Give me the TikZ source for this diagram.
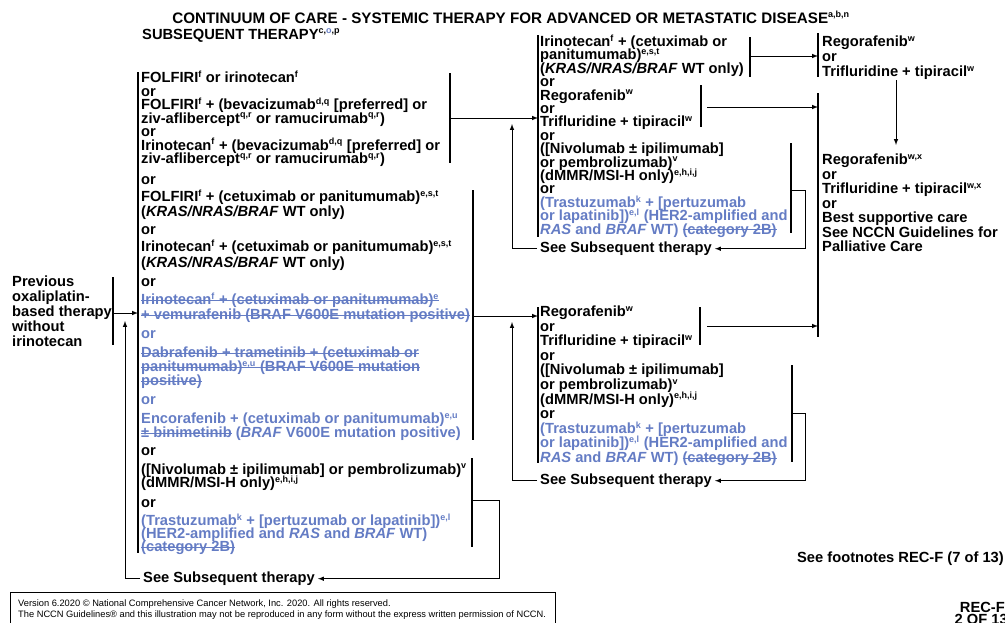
\documentclass[tikz,border=0pt]{standalone}
\usepackage{fontspec}
\setmainfont{Liberation Sans}
\definecolor{nccnblue}{RGB}{100,124,196}
\makeatletter
\newcommand\sps[1]{{\m@th\ensuremath{^{\mbox{\fontsize{9}{9}\selectfont#1}}}}}
\makeatother
\newcommand\bl[1]{\textcolor{nccnblue}{#1}}
\newsavebox\strkbox
\newcommand\strk[1]{\sbox\strkbox{#1}\rlap{\rule[3.7pt]{\wd\strkbox}{1pt}}\usebox\strkbox}
\begin{document}
\lineskiplimit=-20pt
\begin{tikzpicture}[x=1pt,y=-1pt,
  txt/.style={anchor=base west,inner sep=0pt,align=left,font=\bfseries\fontsize{14.7}{#1}\selectfont},
  txt/.default=13.5,
  foot/.style={anchor=base west,inner sep=0pt,font=\fontsize{9.3}{10}\selectfont},
  bar/.style={line width=1.2pt},
  arr/.style={line width=1pt,-latex}]
\useasboundingbox (0,0) rectangle (1005,622);
% headings (multi-line nodes sit on their last baseline)
\node[txt,anchor=base,font=\bfseries\fontsize{15.2}{16}\selectfont] (title) at (511,23) {CONTINUUM OF CARE - SYSTEMIC THERAPY FOR ADVANCED OR METASTATIC DISEASE\sps{a,b,n}};
\node[txt] (subtitle) at (142,39) {SUBSEQUENT THERAPY\sps{c,\bl{o},p}};
\node[txt=15] (prev) at (12,346.5) {Previous\\oxaliplatin-\\based therapy\\without\\irinotecan};
% left column
\node[txt=13.5] (l1) at (141,163.7) {FOLFIRI\sps{f} or irinotecan\sps{f}\\or\\FOLFIRI\sps{f} + (bevacizumab\sps{d,q} [preferred] or\\ziv-aflibercept\sps{q,r} or ramucirumab\sps{q,r})\\or\\Irinotecan\sps{f} + (bevacizumab\sps{d,q} [preferred] or\\ziv-aflibercept\sps{q,r} or ramucirumab\sps{q,r})};
\node[txt] (o1) at (141,184.5) {or};
\node[txt=15] (l2) at (141,216.5) {FOLFIRI\sps{f} + (cetuximab or panitumumab)\sps{e,s,t}\\(\textit{KRAS/NRAS/BRAF} WT only)};
\node[txt] (o2) at (141,234.5) {or};
\node[txt=16] (l3) at (141,267.5) {Irinotecan\sps{f} + (cetuximab or panitumumab)\sps{e,s,t}\\(\textit{KRAS/NRAS/BRAF} WT only)};
\node[txt] (o3) at (141,286.5) {or};
\node[txt=15] (l4) at (141,319.5) {\bl{\strk{Irinotecan\sps{f} + (cetuximab or panitumumab)\sps{e}}}\\\bl{\strk{+ vemurafenib (BRAF V600E mutation positive)}}};
\node[txt] (o4) at (141,338.5) {\bl{or}};
\node[txt=14] (l5) at (141,385.5) {\bl{\strk{Dabrafenib + trametinib + (cetuximab or}}\\\bl{\strk{panitumumab)\sps{e,u} (BRAF V600E mutation}}\\\bl{\strk{positive)}}};
\node[txt] (o5) at (141,404.5) {\bl{or}};
\node[txt=14] (l6) at (141,437.5) {\bl{Encorafenib + (cetuximab or panitumumab)\sps{e,u}}\\\bl{\strk{± binimetinib} (\textit{BRAF} V600E mutation positive)}};
\node[txt] (o6) at (141,455.5) {or};
\node[txt=13.5] (l7) at (141,487.5) {([Nivolumab ± ipilimumab] or pembrolizumab)\sps{v}\\(dMMR/MSI-H only)\sps{e,h,i,j}};
\node[txt] (o7) at (141,507.5) {or};
\node[txt=13] (l8) at (141,551.5) {\bl{(Trastuzumab\sps{k} + [pertuzumab or lapatinib])\sps{e,l}}\\\bl{(HER2-amplified and \textit{RAS} and \textit{BRAF} WT)}\\\bl{\strk{(category 2B)}}};
\node[txt,inner xsep=3pt] (sstL) at (140,582.5) {See Subsequent therapy};
% middle column
\node[txt=13.4] (mt) at (540,234.1) {Irinotecan\sps{f} + (cetuximab or\\panitumumab)\sps{e,s,t}\\(\textit{KRAS/NRAS/BRAF} WT only)\\or\\Regorafenib\sps{w}\\or\\Trifluridine + tipiracil\sps{w}\\or\\([Nivolumab ± ipilimumab]\\or pembrolizumab)\sps{v}\\(dMMR/MSI-H only)\sps{e,h,i,j}\\or\\\bl{(Trastuzumab\sps{k} + [pertuzumab}\\\bl{or lapatinib])\sps{e,l} (HER2-amplified and}\\\bl{\textit{RAS} and \textit{BRAF} WT) \strk{(category 2B)}}};
\node[txt,inner xsep=3pt] (sstT) at (537,252.5) {See Subsequent therapy};
\node[txt=14.6] (mb) at (540,462.5) {Regorafenib\sps{w}\\or\\Trifluridine + tipiracil\sps{w}\\or\\([Nivolumab ± ipilimumab]\\or pembrolizumab)\sps{v}\\(dMMR/MSI-H only)\sps{e,h,i,j}\\or\\\bl{(Trastuzumab\sps{k} + [pertuzumab}\\\bl{or lapatinib])\sps{e,l} (HER2-amplified and}\\\bl{\textit{RAS} and \textit{BRAF} WT) \strk{(category 2B)}}};
\node[txt,inner xsep=3pt] (sstB) at (537,484.5) {See Subsequent therapy};
% right column
\node[txt=15] (rt) at (822,76.5) {Regorafenib\sps{w}\\or\\Trifluridine + tipiracil\sps{w}};
\node[txt=14.5] (ft) at (822,251.5) {Regorafenib\sps{w,x}\\or\\Trifluridine + tipiracil\sps{w,x}\\or\\Best supportive care\\See NCCN Guidelines for\\Palliative Care};
\node[txt,anchor=base east] (notes) at (1004,562) {See footnotes REC-F (7 of 13)};
\node[txt,anchor=base east] (page) at (1005,612) {REC-F};
\node[txt,anchor=base east] (pageof) at (1008,624.5) {2 OF 13};
% footer
\draw[line width=0.8pt] (10,592) rectangle (555,640);
\node[foot] (ver) at (18,606) {Version 6.2020 © National Comprehensive Cancer Network, Inc. 2020. All rights reserved.};
\node[foot] (cpy) at (18,617) {The NCCN Guidelines® and this illustration may not be reproduced in any form without the express written permission of NCCN.};
% bar ends
\coordinate (pvT) at (113,277); \coordinate (pvB) at (113,345); \coordinate (pvM) at (113,313);
\coordinate (lcT) at (138,72); \coordinate (lcB) at (138,553);
\coordinate (g1T) at (450,73); \coordinate (g1B) at (450,163); \coordinate (g1M) at (450,118);
\coordinate (g2T) at (473,190); \coordinate (g2B) at (473,440); \coordinate (g2M) at (473,316);
\coordinate (g3T) at (472,458); \coordinate (g3B) at (472,547); \coordinate (g3M) at (472,500);
\coordinate (mtT) at (538,35); \coordinate (mtB) at (538,237);
\coordinate (mbT) at (538,307); \coordinate (mbB) at (538,463);
\coordinate (aT) at (750,37); \coordinate (aB) at (750,77); \coordinate (aM) at (750,56);
\coordinate (bT) at (701,85); \coordinate (bB) at (701,127); \coordinate (bM) at (707,107);
\coordinate (cT) at (791,143); \coordinate (cB) at (791,233); \coordinate (cM) at (791,190);
\coordinate (dT) at (700,307); \coordinate (dB) at (700,345); \coordinate (dM) at (707,326);
\coordinate (eT) at (792,365); \coordinate (eB) at (792,462); \coordinate (eM) at (792,413);
\coordinate (rtT) at (818,33); \coordinate (rtB) at (818,77);
\coordinate (ftT) at (818,93); \coordinate (ftB) at (818,337);
\coordinate (dnT) at (896,80); \coordinate (dnB) at (896,145);
\coordinate (upL) at (125,321); \coordinate (upT) at (512,124); \coordinate (upB) at (512,322);
\coordinate (g3R) at (499,0); \coordinate (cR) at (805,0);
\foreach \g in {pv,lc,g1,g2,g3,mt,mb,a,b,c,d,e,rt,ft}
  \draw[bar] (\g T) -- (\g B);
% forward arrows
\draw[arr] (pvM) -- (pvM -| lcT);
\draw[arr] (g1M) -- (g1M -| mtT);
\draw[arr] (g2M) -- (g2M -| mbT);
\draw[arr] (aM) -- (aM -| rtT);
\draw[arr] (bM) -- (bM -| ftT);
\draw[arr] (dM) -- (dM -| ftT);
\draw[arr] (dnT) -- (dnB);
% loops back
\draw[arr] (sstL.west) -| (upL);
\draw[arr] (sstT.west) -| (upT);
\draw[arr] (sstB.west) -| (upB);
\draw[arr] (g3M) -| (g3R |- sstL.east) -- (sstL.east);
\draw[arr] (cM) -| (cR |- sstT.east) -- (sstT.east);
\draw[arr] (eM) -| (cR |- sstB.east) -- (sstB.east);
\end{tikzpicture}
\end{document}
